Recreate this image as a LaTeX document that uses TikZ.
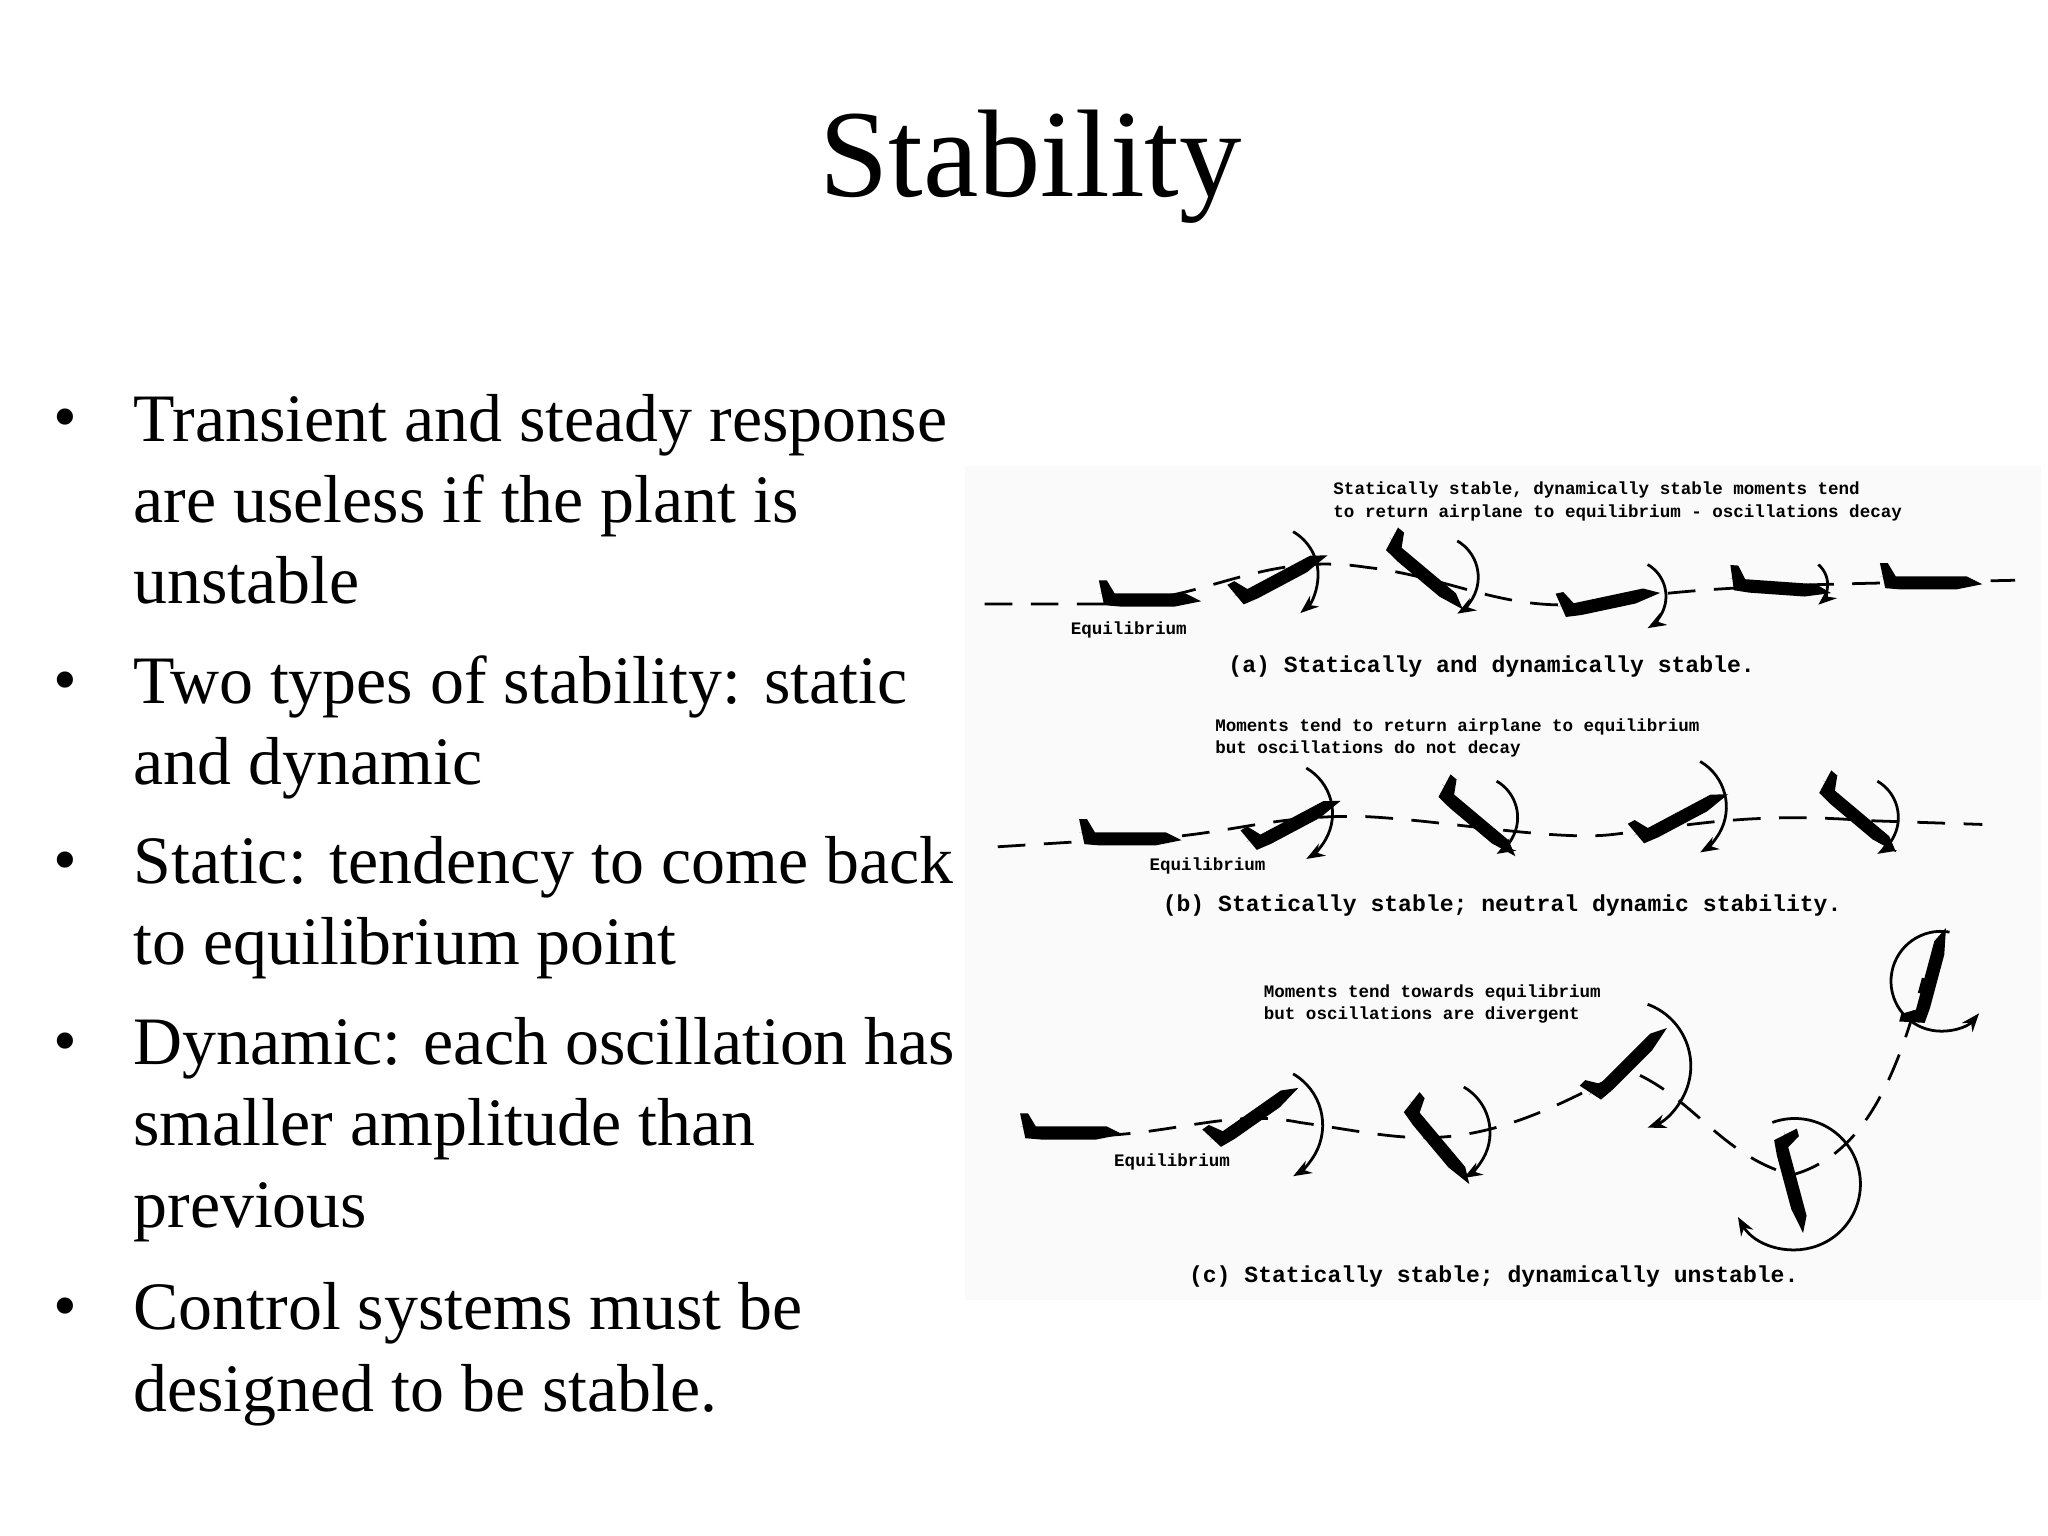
\documentclass[tikz,border=0pt]{standalone}
\usepackage{fontspec}
\setmainfont{Liberation Serif}
\newfontfamily\figfont{Liberation Mono}
\usetikzlibrary{arrows.meta}
\tikzset{x=0.01cm,y=-0.01cm,
 bul/.style={anchor=north west,align=left,inner sep=0,font=\fontsize{14.7}{17.6}\selectfont},
 dot/.style={anchor=base,inner sep=0,font=\fontsize{14.7}{17.6}\selectfont},
 capt/.style={font=\figfont\bfseries\fontsize{5}{6}\selectfont,inner sep=0,align=left},
 lab/.style={font=\figfont\bfseries\fontsize{3.8}{4.8}\selectfont,inner sep=0,align=left},
 flight/.style={dash pattern=on 6pt off 4pt,line width=0.6pt},
 rotarr/.style={line width=0.6pt,-{Stealth[length=4pt]}},
 plane/.pic={\fill (-38,-4) -- (28,-4) -- (40,2) -- (20,6) -- (-22,6) -- (-34,5) -- (-38,-14) -- (-32,-14) -- (-26,-4) -- cycle;}}
\begin{document}
\begin{tikzpicture}
\useasboundingbox (0,0) rectangle (1560,1170);
\fill[gray!4] (735,355) rectangle (1555,990);
\node[anchor=base,inner sep=0,font=\fontsize{27}{30}\selectfont] (title) at (785,150) {Stability};
\foreach \y/\t [count=\i] in {335/{\strut Transient and steady response\\are useless if the plant is\\unstable},
 535/{\strut Two types of stability: static\\and dynamic},
 672/{\strut Static: tendency to come back\\to equilibrium point},
 810/{\strut Dynamic: each oscillation has\\smaller amplitude than\\previous},
 1012/{\strut Control systems must be\\designed to be stable.}}{
 \node[dot] (d\i) at (50,\y) {•};
 \node[bul] (b\i) at (101,\y-43) {\t};}
% (a)
\node[lab,anchor=west] (ta) at (1015,382) {Statically stable, dynamically stable moments tend\\to return airplane to equilibrium - oscillations decay};
\draw[flight] (750,460) -- (840,460) .. controls (920,458) and (960,420) .. (1040,432) .. controls (1110,440) and (1150,470) .. (1225,458) .. controls (1300,445) and (1400,445) .. (1535,442);
\pic[rotate=0] at (875,456) {plane};
\pic[rotate=28] at (975,440) {plane};
\pic[rotate=-40] at (1085,437) {plane};
\pic[rotate=12] at (1225,458) {plane};
\pic[rotate=-4] at (1355,447) {plane};
\pic[rotate=0] at (1470,443) {plane};
\draw[rotarr] (985,405) arc (-60:50:38);
\draw[rotarr] (1110,412) arc (-60:60:32);
\draw[rotarr] (1255,430) arc (-60:60:28);
\draw[rotarr] (1385,430) arc (-50:50:20);
\node[lab,anchor=west] (ea) at (815,480) {Equilibrium};
\node[capt,anchor=west] (ca) at (935,508) {(a) Statically and dynamically stable.};
% (b)
\node[lab,anchor=west] (tb) at (925,562) {Moments tend to return airplane to equilibrium\\but oscillations do not decay};
\draw[flight] (760,645) -- (840,640) .. controls (930,640) and (960,620) .. (1040,622) .. controls (1100,625) and (1180,640) .. (1225,636) .. controls (1280,630) and (1330,618) .. (1420,625) -- (1510,628);
\pic[rotate=0] at (860,638) {plane};
\pic[rotate=28] at (985,627) {plane};
\pic[rotate=-40] at (1125,625) {plane};
\pic[rotate=28] at (1280,622) {plane};
\pic[rotate=-40] at (1415,622) {plane};
\draw[rotarr] (995,585) arc (-60:60:40);
\draw[rotarr] (1140,595) arc (-60:60:32);
\draw[rotarr] (1295,580) arc (-60:60:40);
\draw[rotarr] (1430,595) arc (-60:60:32);
\node[lab,anchor=west] (eb) at (875,660) {Equilibrium};
\node[capt,anchor=west] (cb) at (885,690) {(b) Statically stable; neutral dynamic stability.};
% (c)
\node[lab,anchor=west] (tc) at (962,765) {Moments tend towards equilibrium\\ but oscillations are divergent};
\draw[flight] (840,865) .. controls (900,862) and (940,845) .. (990,855) .. controls (1040,862) and (1070,870) .. (1110,865) .. controls (1160,858) and (1200,835) .. (1240,815) .. controls (1290,835) and (1310,880) .. (1365,895) .. controls (1420,880) and (1445,820) .. (1465,745);
\pic[rotate=0] at (815,862) {plane};
\pic[rotate=35] at (955,850) {plane};
\pic[rotate=-50] at (1095,870) {plane};
\pic[rotate=45] at (1240,810) {plane};
\pic[rotate=-75] at (1365,900) {plane};
\pic[rotate=75] at (1470,745) {plane};
\draw[rotarr] (985,818) arc (-60:60:45);
\draw[rotarr] (1115,828) arc (-60:60:40);
\draw[rotarr] (1255,765) arc (-70:70:50);
\draw[rotarr] (1350,855) arc (-110:150:50);
\draw[rotarr] (1485,710) arc (-80:-320:38);
\node[lab,anchor=west] (ec) at (848,885) {Equilibrium};
\node[capt,anchor=west] (cc) at (905,972) {(c) Statically stable; dynamically unstable.};
\end{tikzpicture}
\end{document}
